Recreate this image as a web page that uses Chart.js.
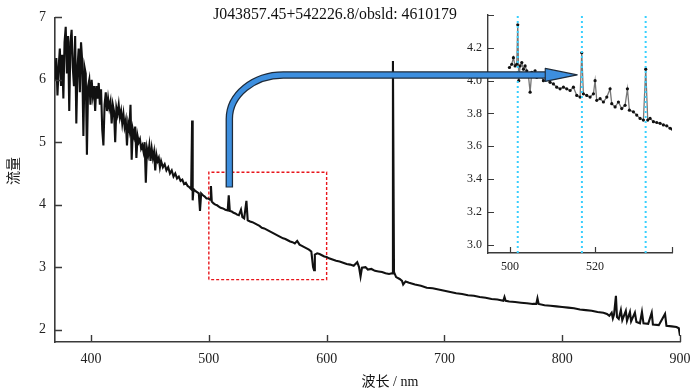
<!DOCTYPE html>
<html>
<head>
<meta charset="utf-8">
<script src="https://cdn.jsdelivr.net/npm/chart.js@4.4.1/dist/chart.umd.min.js"></script>
<style>
  html, body { margin: 0; padding: 0; background: #fff; }
  #wrap { position: relative; width: 700px; height: 390px; }
  #wrap canvas { position: absolute; }
</style>
</head>
<body>
<div id="wrap">
  <canvas id="main" width="700" height="390" style="left:0;top:0"></canvas>
  <canvas id="inset" width="250" height="285" style="left:440px;top:0"></canvas>
  <canvas id="overlay" width="700" height="390" style="left:0;top:0;pointer-events:none"></canvas>
</div>
<script>
const titleText = 'J043857.45+542226.8/obsld: 4610179';
const xLabel = '波长 / nm';
const yLabel = '流量';

const mainXRange = [369.4, 900];
const mainYRange = [1.8, 7];
const mainXTicks = [400, 500, 600, 700, 800, 900];
const mainYTicks = [2, 3, 4, 5, 6, 7];

const insetXRange = [494.8, 538.1];
const insetYRange = [2.95, 4.4];
const insetXTicks = [500, 520];
const insetYTicks = [3.0, 3.2, 3.4, 3.6, 3.8, 4.0, 4.2];

// [wavelength nm, flux]
const spectrum = [
  [369.5, 6.0], [370.5, 6.35], [371.5, 5.75], [372.5, 6.2], [373.5, 6.5], [374.5, 5.9],
  [375.5, 6.4], [376.5, 5.7], [377.5, 6.6], [378.5, 6.85], [379.5, 6.1], [380.5, 6.7],
  [381.5, 5.5], [382.5, 6.6], [383.5, 6.8], [384.5, 6.2], [385.5, 5.9], [386.5, 6.7],
  [387.5, 5.3], [388.5, 6.2], [389.5, 6.5], [390.5, 5.8], [391.5, 6.6], [392.5, 6.3],
  [393.5, 5.1], [394.5, 6.2], [395.5, 6.1], [396.5, 4.8], [397.5, 5.9], [398.5, 6.0],
  [399.5, 5.6], [400.5, 6.0], [401.5, 5.75], [402.5, 5.9], [403.5, 5.5], [404.5, 5.9],
  [405.5, 5.7], [406.5, 5.95], [407.5, 5.6], [408.5, 5.85], [409.5, 5.2], [410.5, 4.95],
  [411.5, 5.6], [412.5, 5.8], [413.5, 5.5], [414.5, 5.7], [415.5, 5.55], [416.5, 5.65],
  [417.5, 5.3], [418.5, 5.6], [419.5, 5.5], [420.5, 5.0], [421.5, 5.55], [422.5, 5.45],
  [423.5, 5.6], [424.5, 5.4], [425.5, 5.5], [426.5, 5.3], [427.5, 5.45], [428.5, 5.25],
  [429.5, 5.35], [430.5, 4.95], [431.5, 5.3], [432.5, 5.2], [433.5, 5.6], [434.5, 4.72],
  [435.5, 5.2], [436.5, 5.1], [437.5, 5.25], [438.5, 4.75], [439.5, 5.1], [440.5, 5.0],
  [441.5, 5.05], [442.5, 4.9], [443.5, 4.95], [444.5, 4.85], [445.5, 5.0], [446.5, 4.35],
  [447.5, 4.9], [448.5, 4.8], [449.5, 4.95], [450.5, 4.7], [451.5, 4.9], [452.5, 4.75],
  [453.5, 4.85], [454.5, 4.55], [455.5, 4.8], [456.5, 4.7], [457.5, 4.75], [458.5, 4.6],
  [459.5, 4.7], [461, 4.6], [462.5, 4.65], [464, 4.55], [465.5, 4.6], [467, 4.5],
  [468.5, 4.55], [470, 4.45], [471.5, 4.5], [473, 4.42], [474.5, 4.45], [476, 4.38],
  [477.5, 4.4], [479, 4.33], [480.5, 4.35], [482, 4.3], [483.5, 4.28], [485, 4.25],
  [485.8, 5.35], [486.3, 4.07], [487, 4.25], [488.5, 4.22], [490, 4.2], [491.5, 4.18],
  [492.5, 3.9], [493.5, 4.18], [495, 4.15], [496.5, 4.13], [498, 4.1], [499.5, 4.1],
  [501, 4.08], [501.8, 4.3], [502.5, 4.05], [504, 4.02], [505.5, 4.0], [507, 3.99],
  [508.5, 3.97], [510, 3.95], [512, 3.94], [514, 3.92], [516, 3.91], [516.9, 4.15],
  [517.8, 3.9], [519.5, 3.89], [521, 3.87], [522.5, 3.86], [524, 3.84], [525.5, 3.83],
  [527.3, 3.92], [528.5, 3.8], [530, 3.78], [531.9, 4.06], [533, 3.75], [535, 3.73],
  [537, 3.72], [539, 3.7], [541, 3.68], [543, 3.66], [545, 3.63], [547, 3.62],
  [549, 3.6], [551, 3.58], [553, 3.56], [555, 3.54], [557, 3.52], [559, 3.5],
  [561, 3.48], [563, 3.46], [565, 3.45], [567, 3.43], [569, 3.41], [571, 3.4],
  [573, 3.38], [575, 3.42], [577, 3.36], [579, 3.34], [581, 3.32], [583, 3.3],
  [585, 3.28], [587, 3.25], [588.5, 3.0], [589.3, 2.95], [590, 3.2], [592, 3.22],
  [594, 3.21], [596, 3.19], [598, 3.17], [600, 3.16], [602, 3.14], [605, 3.12],
  [608, 3.1], [611, 3.09], [614, 3.07], [617, 3.05], [620, 3.04], [623, 3.02],
  [626, 3.08], [627.5, 3.0], [628.8, 2.85], [630, 2.99], [633, 3.0], [635, 2.96],
  [638, 2.97], [641, 2.94], [644, 2.93], [647, 2.92], [650, 2.9], [653, 2.89],
  [655.5, 2.9], [656.3, 6.3], [657.2, 2.92], [659, 2.84], [662, 2.81], [664, 2.78],
  [665, 2.72], [667, 2.77], [670, 2.75], [675, 2.72], [680, 2.7], [685, 2.67],
  [690, 2.66], [695, 2.64], [700, 2.62], [705, 2.6], [710, 2.58], [715, 2.57],
  [720, 2.55], [725, 2.54], [730, 2.52], [735, 2.51], [740, 2.49], [745, 2.48],
  [750, 2.46], [751, 2.52], [752, 2.46], [755, 2.45], [760, 2.44], [765, 2.43],
  [770, 2.42], [775, 2.41], [778, 2.41], [779, 2.5], [780, 2.41], [785, 2.39],
  [790, 2.38], [795, 2.37], [800, 2.36], [805, 2.35], [810, 2.34], [815, 2.32],
  [820, 2.31], [825, 2.3], [830, 2.28], [835, 2.27], [838, 2.25], [840, 2.22],
  [842, 2.27], [843, 2.18], [844, 2.24], [845.6, 2.54], [846.5, 2.2], [848, 2.17],
  [849.8, 2.31], [851, 2.15], [854, 2.3], [855, 2.14], [857.5, 2.28], [858.5, 2.13],
  [861.7, 2.27], [863, 2.12], [866, 2.1], [867.7, 2.28], [869, 2.1], [873, 2.09],
  [876, 2.27], [877, 2.08], [882, 2.07], [887.3, 2.25], [888.5, 2.06], [893, 2.05],
  [897, 2.04], [899, 2.02], [900, 1.9]
];

// zoomed part, [wavelength nm, flux]
const insetSpectrum = [
  [499.84, 4.08], [500.39, 4.1], [500.78, 4.14], [501.18, 4.09], [501.57, 4.1], [501.8, 4.34],
  [502.04, 4.0], [502.35, 4.09], [502.75, 4.11], [503.14, 4.07], [503.53, 4.09], [503.92, 4.06],
  [504.31, 4.03], [504.71, 3.93], [505.1, 4.05], [505.49, 4.04], [505.88, 4.06], [506.27, 4.02],
  [507.06, 4.04], [507.84, 4.0], [508.63, 4.01], [509.41, 3.99], [510.2, 3.98], [510.98, 3.96],
  [511.76, 3.95], [512.55, 3.96], [513.33, 3.95], [514.12, 3.94], [514.9, 3.96], [515.69, 3.91],
  [516.47, 3.9], [516.86, 4.17], [517.25, 3.92], [518.04, 3.91], [518.82, 3.9], [519.61, 3.92],
  [520.0, 4.0], [520.39, 3.88], [521.18, 3.89], [521.96, 3.87], [522.75, 3.9], [523.53, 3.95],
  [523.92, 3.86], [524.71, 3.84], [525.49, 3.87], [526.27, 3.83], [527.06, 3.85], [527.61, 3.95],
  [528.08, 3.82], [529.02, 3.81], [529.8, 3.79], [530.59, 3.77], [531.37, 3.76], [531.92, 4.07],
  [532.39, 3.76], [532.94, 3.77], [533.73, 3.75], [534.51, 3.745], [535.29, 3.74], [536.08, 3.73],
  [536.86, 3.725], [537.65, 3.71], [538.12, 3.705]
];

const lineMarks = [501.8, 516.9, 531.9];
const zoomBoxX = [500, 600];
const zoomBoxY = [2.8, 4.52];
const arrowFrom = [517.4, 4.29];   // main chart coords
const arrowTo = [515.8, 4.035];    // inset chart coords

const serif = "'Liberation Serif', 'Times New Roman', serif";
const cjk = "'Liberation Serif', 'Noto Sans CJK SC', serif";
const axisColor = '#3a3a3a';

const inwardTicks = {
  id: 'inwardTicks',
  afterDraw(chart, args, opts) {
    const ctx = chart.ctx, a = chart.chartArea;
    const xs = chart.scales.x, ys = chart.scales.y;
    const len = opts.len;
    ctx.save();
    ctx.strokeStyle = axisColor;
    ctx.lineWidth = opts.width;
    ctx.beginPath();
    opts.xTicks.forEach(v => {
      const p = Math.round(xs.getPixelForValue(v)) + 0.5;
      ctx.moveTo(p, a.bottom);
      ctx.lineTo(p, a.bottom - len);
    });
    opts.yTicks.forEach(v => {
      const p = Math.round(ys.getPixelForValue(v)) + 0.5;
      ctx.moveTo(a.left, p);
      ctx.lineTo(a.left + len, p);
    });
    ctx.stroke();
    ctx.restore();
  }
};

const mainText = {
  id: 'mainText',
  afterDraw(chart) {
    const ctx = chart.ctx;
    ctx.save();
    ctx.fillStyle = '#111';
    ctx.textAlign = 'center';
    ctx.textBaseline = 'middle';
    ctx.font = '15.8px ' + serif;
    ctx.fillText(titleText, 335, 15);
    ctx.font = '14px ' + cjk;
    ctx.fillText(xLabel, 390, 382);
    ctx.translate(14, 171);
    ctx.rotate(-Math.PI / 2);
    ctx.fillText(yLabel, 0, 0);
    ctx.restore();
  }
};

const mainChart = new Chart(document.getElementById('main'), {
  type: 'line',
  data: {
    datasets: [
      {
        data: spectrum.map(p => ({ x: p[0], y: p[1] })),
        borderColor: '#111',
        borderWidth: 2.1,
        pointRadius: 0,
        tension: 0
      },
      {
        data: [
          { x: zoomBoxX[0], y: zoomBoxY[0] }, { x: zoomBoxX[0], y: zoomBoxY[1] },
          { x: zoomBoxX[1], y: zoomBoxY[1] }, { x: zoomBoxX[1], y: zoomBoxY[0] },
          { x: zoomBoxX[0], y: zoomBoxY[0] }
        ],
        borderColor: '#e8151b',
        borderWidth: 1.4,
        borderDash: [3, 2],
        pointRadius: 0,
        tension: 0
      }
    ]
  },
  options: {
    responsive: false,
    animation: false,
    layout: { padding: { left: 0, right: 20, top: 13, bottom: 0 } },
    plugins: {
      legend: { display: false },
      tooltip: { enabled: false },
      inwardTicks: { xTicks: mainXTicks, yTicks: mainYTicks, len: 7, width: 1.4 }
    },
    scales: {
      x: {
        type: 'linear',
        min: mainXRange[0],
        max: mainXRange[1],
        afterBuildTicks: s => { s.ticks = mainXTicks.map(v => ({ value: v })); },
        afterFit: s => { s.height = 48; },
        grid: { display: false, drawTicks: false },
        border: { display: true, color: axisColor, width: 1.6 },
        ticks: { padding: 9, color: '#222', font: { family: serif, size: 14 } }
      },
      y: {
        min: mainYRange[0],
        max: mainYRange[1],
        afterBuildTicks: s => { s.ticks = mainYTicks.map(v => ({ value: v })); },
        afterFit: s => { s.width = 55; },
        grid: { display: false, drawTicks: false },
        border: { display: true, color: axisColor, width: 1.6 },
        ticks: { padding: 9, color: '#222', font: { family: serif, size: 14 } }
      }
    }
  },
  plugins: [inwardTicks, mainText]
});

const insetChart = new Chart(document.getElementById('inset'), {
  type: 'line',
  data: {
    datasets: lineMarks.map(v => ({
      data: [{ x: v, y: insetYRange[0] }, { x: v, y: insetYRange[1] }],
      borderColor: '#38d0ff',
      borderWidth: 2,
      borderDash: [2, 3],
      pointRadius: 0
    })).concat([{
      data: insetSpectrum.map(p => ({ x: p[0], y: p[1] })),
      borderColor: '#777',
      borderWidth: 1.3,
      pointRadius: 1.6,
      pointBorderWidth: 0,
      pointBackgroundColor: '#111',
      tension: 0
    }])
  },
  options: {
    responsive: false,
    animation: false,
    layout: { padding: { left: 0, right: 18, top: 15, bottom: 0 } },
    plugins: {
      legend: { display: false },
      tooltip: { enabled: false },
      inwardTicks: {
        xTicks: insetXTicks.concat([insetXRange[1]]),
        yTicks: insetYTicks.concat([insetYRange[1]]),
        len: 6, width: 1.2
      }
    },
    scales: {
      x: {
        type: 'linear',
        min: insetXRange[0],
        max: insetXRange[1],
        afterBuildTicks: s => { s.ticks = insetXTicks.map(v => ({ value: v })); },
        afterFit: s => { s.height = 32; },
        grid: { display: false, drawTicks: false },
        border: { display: true, color: axisColor, width: 1.4 },
        ticks: { padding: 7, color: '#222', font: { family: serif, size: 12 } }
      },
      y: {
        min: insetYRange[0],
        max: insetYRange[1],
        afterBuildTicks: s => { s.ticks = insetYTicks.map(v => ({ value: v })); },
        afterFit: s => { s.width = 48; },
        grid: { display: false, drawTicks: false },
        border: { display: true, color: axisColor, width: 1.4 },
        ticks: { padding: 6, color: '#222', font: { family: serif, size: 12 }, callback: v => v.toFixed(1) }
      }
    }
  },
  plugins: [inwardTicks]
});

// blue arrow from the red box up into the inset
function drawArrow() {
  const ctx = document.getElementById('overlay').getContext('2d');
  const insetLeft = 440;
  const x0 = mainChart.scales.x.getPixelForValue(arrowFrom[0]);
  const y0 = mainChart.scales.y.getPixelForValue(arrowFrom[1]);
  const x1 = insetLeft + insetChart.scales.x.getPixelForValue(arrowTo[0]);
  const y1 = insetChart.scales.y.getPixelForValue(arrowTo[1]);
  const rx = 54, ry = 44, headLen = 32, headHalf = 6.5;

  function shaft(startY) {
    ctx.beginPath();
    ctx.moveTo(x0, startY);
    ctx.lineTo(x0, y1 + ry);
    ctx.bezierCurveTo(x0, y1 + ry * 0.45, x0 + rx * 0.45, y1, x0 + rx, y1);
    ctx.lineTo(x1 - headLen + 2, y1);
  }
  ctx.lineCap = 'butt';
  ctx.lineJoin = 'round';
  shaft(y0 + 1);
  ctx.strokeStyle = '#1e2b3a';
  ctx.lineWidth = 7.5;
  ctx.stroke();
  shaft(y0);
  ctx.strokeStyle = '#3d8fdf';
  ctx.lineWidth = 5;
  ctx.stroke();

  ctx.beginPath();
  ctx.moveTo(x1 - headLen, y1 - headHalf);
  ctx.lineTo(x1, y1);
  ctx.lineTo(x1 - headLen, y1 + headHalf);
  ctx.closePath();
  ctx.fillStyle = '#3d8fdf';
  ctx.fill();
  ctx.strokeStyle = '#1e2b3a';
  ctx.lineWidth = 1.1;
  ctx.stroke();
}
drawArrow();
</script>
</body>
</html>
